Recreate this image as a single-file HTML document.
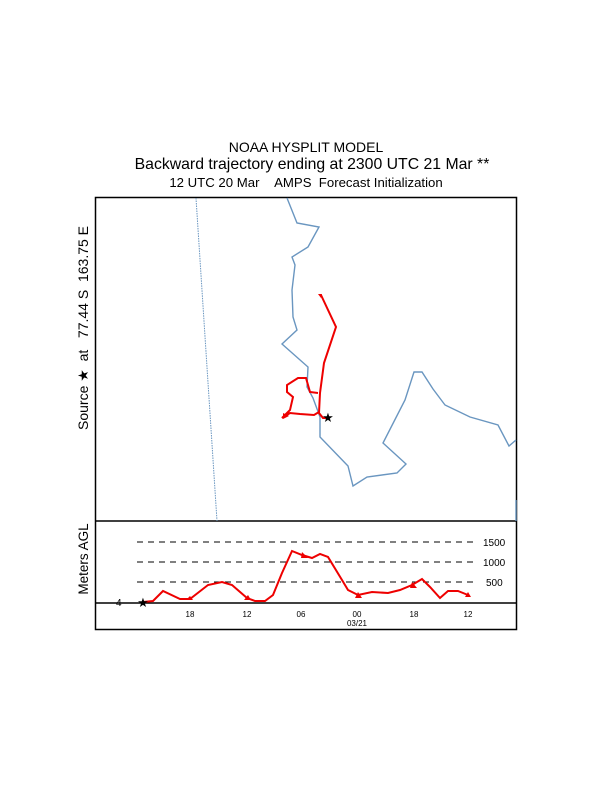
<!DOCTYPE html>
<html><head><style>
html,body{margin:0;padding:0;background:#fff;}
svg{display:block;}
text{font-family:"Liberation Sans",sans-serif;white-space:pre;}
</style></head><body>
<svg width="612" height="792" viewBox="0 0 612 792" xmlns="http://www.w3.org/2000/svg">
<rect width="612" height="792" fill="#fff"/>
<text x="306" y="152" font-size="14" text-anchor="middle">NOAA HYSPLIT MODEL</text>
<text x="312" y="169" font-size="15.8" text-anchor="middle">Backward trajectory ending at 2300 UTC 21 Mar **</text>
<text x="306" y="187" font-size="13.2" text-anchor="middle">12 UTC 20 Mar&#160;&#160;&#160;&#160;AMPS&#160;&#160;Forecast Initialization</text>
<rect x="95.5" y="197.5" width="421" height="432" fill="none" stroke="#000" stroke-width="1.5"/>
<line x1="95" y1="521" x2="517" y2="521" stroke="#000" stroke-width="1.5"/>
<line x1="95" y1="603" x2="517" y2="603" stroke="#000" stroke-width="1.5"/>
<text transform="translate(88,328) rotate(-90)" font-size="14" text-anchor="middle">Source ★&#160;&#160;at&#160;&#160;&#160;77.44 S&#160;&#160;163.75 E</text>
<text transform="translate(88,559) rotate(-90)" font-size="13.5" text-anchor="middle">Meters AGL</text>
<line x1="196" y1="198" x2="217" y2="521" stroke="#6a96c0" stroke-width="1" stroke-dasharray="1.5,1"/>
<polyline fill="none" stroke="#6a96c0" stroke-width="1.4" points="287,198 297,223 319,227 308,247 292,257 295,265 292,290 293,317 297,330 282,344 308,367 307,387 313,398 320,417 320,437 348,466 353,486 367,477 397,473 406,464 383,443 405,400 414,372 422,372 433,389 445,405 470,417 498,425 509,446 516,440"/>
<line x1="516" y1="500" x2="516" y2="521" stroke="#6a96c0" stroke-width="1.4"/>
<polyline fill="none" stroke="#e00" stroke-width="2" points="321,295 336,327 324,363 320,393 319,413 323,418 328,418"/>
<polyline fill="none" stroke="#e00" stroke-width="2" points="319,412 314,415 300,414 290,413 282,418 290,410 293,397 287,392 287,385 298,378 306,378 310,392 318,393"/>
<polygon points="283,413 289,416 283,419" fill="#e00"/>
<polygon points="318,294 322,294 321,298" fill="#e00"/>
<text x="328" y="422" font-size="13" text-anchor="middle">★</text>
<g stroke="#000" stroke-width="1" stroke-dasharray="6,5">
<line x1="137" y1="542" x2="475" y2="542"/>
<line x1="137" y1="562" x2="475" y2="562"/>
<line x1="137" y1="582" x2="475" y2="582"/>
</g>
<text x="483" y="546" font-size="10">1500</text>
<text x="483" y="566" font-size="10">1000</text>
<text x="486" y="586" font-size="10">500</text>
<text x="116" y="606" font-size="10">4</text>
<polyline fill="none" stroke="#e00" stroke-width="2" points="143,602 153,601 163,591 180,599 190,599 208,585 222,582 232,585 247,598 255,601 265,601 273,595 282,573 292,551 302,555 312,558 320,554 328,557 342,580 348,590 358,595 372,592 388,593 400,590 412,585 422,579 430,587 440,598 448,591 458,591 468,595"/>
<g fill="#e00">
<polygon points="186,600 193,600 190,596"/>
<polygon points="244,600 251,600 248,595"/>
<polygon points="301,558 308,558 302,552"/>
<polygon points="355,598 362,598 358,592"/>
<polygon points="410,588 417,588 412,582"/>
<polygon points="465,597 471,597 468,592"/>
</g>
<text x="143" y="607" font-size="13" text-anchor="middle">★</text>
<g font-size="8" text-anchor="middle">
<text x="190" y="617">18</text>
<text x="247" y="617">12</text>
<text x="301" y="617">06</text>
<text x="357" y="617">00</text>
<text x="357" y="626">03/21</text>
<text x="414" y="617">18</text>
<text x="468" y="617">12</text>
</g>
</svg>
</body></html>
